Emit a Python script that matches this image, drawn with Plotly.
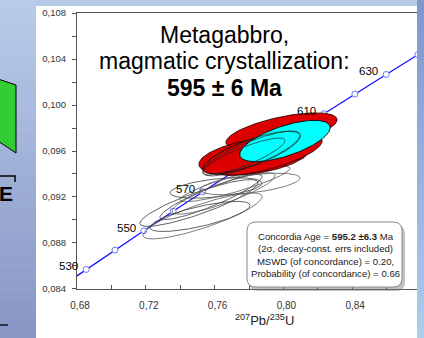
import numpy as np
import plotly.graph_objects as go

# ---------------- data ----------------
# concordia reference points (age in Ma, 207Pb/235U, 206Pb/238U)
ages = [520, 530, 540, 550, 560, 570, 580, 590, 600, 610, 620, 630, 640, 650]
conc_x = [0.66883, 0.68535, 0.70203, 0.71887, 0.73588, 0.75306, 0.77041,
          0.78794, 0.80563, 0.82350, 0.84155, 0.85977, 0.87818, 0.89677]
conc_y = [0.084007, 0.085691, 0.087376, 0.089064, 0.090755, 0.092448, 0.094144,
          0.095843, 0.097544, 0.099248, 0.100954, 0.102664, 0.104376, 0.106090]
label_ages = [530, 550, 570, 610, 630]

# unfilled (grey) analyses: centre x, centre y, 2s half-width x, 2s half-height y, rho
gray_cx = [0.75093, 0.75297, 0.75791, 0.76517, 0.76081, 0.77186, 0.75151, 0.78058]
gray_cy = [0.091478, 0.090348, 0.092000, 0.092304, 0.092783, 0.093130, 0.090304, 0.093130]
gray_hx = [0.03436, 0.03465, 0.02971, 0.03000, 0.02674, 0.03203, 0.02910, 0.02910]
gray_hy = [0.002035, 0.002000, 0.001965, 0.001800, 0.000891, 0.001539, 0.001309, 0.000939]
gray_rho = [0.867, 0.837, 0.900, 0.861, 0.470, 0.885, 0.734, 0.537]

# black-outlined analyses at the lower end of the red group
blk_cx = [0.77709, 0.78145]
blk_cy = [0.095522, 0.095783]
blk_hx = [0.02390, 0.02831]
blk_hy = [0.001609, 0.001952]
blk_rho = [0.853, 0.820]

# red filled analyses
red_cx = [0.79890, 0.78320, 0.79134, 0.78145]
red_cy = [0.097739, 0.095522, 0.095652, 0.095870]
red_hx = [0.03233, 0.03233, 0.03122, 0.02831]
red_hy = [0.001583, 0.001635, 0.001757, 0.001852]
red_rho = [0.617, 0.410, 0.694, 0.767]

# concordia age ellipse
cyan_cx, cyan_cy, cyan_hx, cyan_hy, cyan_rho = 0.80093, 0.096870, 0.02631, 0.001800, 0.648

x_title = "<sup>207</sup>Pb/<sup>235</sup>U"
title_lines = ["Metagabbro,", "magmatic crystallization:", "<b>595 ± 6 Ma</b>"]
box_text = ("Concordia Age = <b>595.2 ±6.3</b> Ma<br>(2σ, decay-const. errs included)<br>"
            "MSWD (of concordance) = 0.20,<br>Probability (of concordance) = 0.66")

# ---------------- layout geometry ----------------
W, H = 424, 338
ML, MR, MT, MB = 77, 3, 13, 49
PW, PH = W - ML - MR, H - MT - MB


def px(x):
    return (x - ML) / PW


def py(y):
    return (H - MB - y) / PH


def ellipse(cx, cy, hx, hy, rho, n=160):
    t = np.linspace(0, 2 * np.pi, n)
    x = cx + hx * np.cos(t)
    y = cy + hy * (rho * np.cos(t) + np.sqrt(1 - rho ** 2) * np.sin(t))
    return x, y


fig = go.Figure()

# concordia
fig.add_trace(go.Scatter(x=conc_x, y=conc_y, mode="lines",
                         line=dict(color="#1414ff", width=1.3), hoverinfo="skip"))
mk = [i for i, a in enumerate(ages) if 530 <= a <= 640]
fig.add_trace(go.Scatter(x=[conc_x[i] for i in mk], y=[conc_y[i] for i in mk], mode="markers",
                         marker=dict(symbol="circle", size=6, color="white",
                                     line=dict(color="#6878ff", width=1)), hoverinfo="skip"))

# grey ellipses
for i in range(len(gray_cx)):
    ex, ey = ellipse(gray_cx[i], gray_cy[i], gray_hx[i], gray_hy[i], gray_rho[i])
    fig.add_trace(go.Scatter(x=ex, y=ey, mode="lines",
                             line=dict(color="#5a5a5a" if i % 2 else "#3a3a3a", width=0.8),
                             hoverinfo="skip"))

# red filled
for i in range(len(red_cx)):
    ex, ey = ellipse(red_cx[i], red_cy[i], red_hx[i], red_hy[i], red_rho[i])
    fig.add_trace(go.Scatter(x=ex, y=ey, mode="lines", fill="toself", fillcolor="#dd0000",
                             line=dict(color="#1a0000", width=0.8), hoverinfo="skip"))

# cyan concordia ellipse
ex, ey = ellipse(cyan_cx, cyan_cy, cyan_hx, cyan_hy, cyan_rho)
fig.add_trace(go.Scatter(x=ex, y=ey, mode="lines", fill="toself", fillcolor="#00ffff",
                         line=dict(color="#111111", width=1), hoverinfo="skip"))

# outlines on top
for i in range(len(blk_cx)):
    ex, ey = ellipse(blk_cx[i], blk_cy[i], blk_hx[i], blk_hy[i], blk_rho[i])
    fig.add_trace(go.Scatter(x=ex, y=ey, mode="lines",
                             line=dict(color="#222222", width=0.7), hoverinfo="skip"))
for i in [3]:
    ex, ey = ellipse(red_cx[i], red_cy[i], red_hx[i], red_hy[i], red_rho[i])
    fig.add_trace(go.Scatter(x=ex, y=ey, mode="lines",
                             line=dict(color="#222222", width=0.7), hoverinfo="skip"))

shapes = []
# left slide background gradient
nb = 34
top_c, bot_c = np.array([184, 204, 233]), np.array([136, 150, 198])
for k in range(nb):
    f = k / (nb - 1)
    c = (top_c * (1 - f) + bot_c * f).astype(int)
    y0 = H * k / nb
    y1 = H * (k + 1) / nb + 0.5
    shapes.append(dict(type="rect", xref="paper", yref="paper", x0=px(0), x1=px(36),
                       y0=py(y1), y1=py(y0), fillcolor=f"rgb({c[0]},{c[1]},{c[2]})",
                       line=dict(width=0), layer="above"))
# top strip
shapes.append(dict(type="rect", xref="paper", yref="paper", x0=px(36), x1=px(417),
                   y0=py(6), y1=py(0), fillcolor="rgb(182,202,232)", line=dict(width=0),
                   layer="above"))
# right strip gradient
top_r, bot_r = np.array([128, 152, 204]), np.array([172, 204, 240])
for k in range(nb):
    f = k / (nb - 1)
    c = (top_r * (1 - f) + bot_r * f).astype(int)
    y0 = H * k / nb
    y1 = H * (k + 1) / nb + 0.5
    shapes.append(dict(type="rect", xref="paper", yref="paper", x0=px(417), x1=px(424),
                       y0=py(y1), y1=py(y0), fillcolor=f"rgb({c[0]},{c[1]},{c[2]})",
                       line=dict(width=0), layer="above"))
# green parallelogram
shapes.append(dict(type="path", xref="paper", yref="paper",
                   path=f"M {px(-2)},{py(79)} L {px(16)},{py(85)} L {px(16)},{py(153)} "
                        f"L {px(-2)},{py(141)} Z",
                   fillcolor="#33cc33", line=dict(color="black", width=1), layer="above"))
# bracket above E
shapes.append(dict(type="path", xref="paper", yref="paper",
                   path=f"M {px(-1)},{py(176)} L {px(15)},{py(176)} L {px(15)},{py(182)}",
                   line=dict(color="black", width=1.5), layer="above"))
# small dash bottom-left
shapes.append(dict(type="line", xref="paper", yref="paper", x0=px(0), x1=px(8),
                   y0=py(325), y1=py(325), line=dict(color="black", width=1.3), layer="above"))


def rrect(x0, y0, x1, y1, r):
    return (f"M {px(x0 + r)},{py(y0)} L {px(x1 - r)},{py(y0)} "
            f"Q {px(x1)},{py(y0)} {px(x1)},{py(y0 + r)} L {px(x1)},{py(y1 - r)} "
            f"Q {px(x1)},{py(y1)} {px(x1 - r)},{py(y1)} L {px(x0 + r)},{py(y1)} "
            f"Q {px(x0)},{py(y1)} {px(x0)},{py(y1 - r)} L {px(x0)},{py(y0 + r)} "
            f"Q {px(x0)},{py(y0)} {px(x0 + r)},{py(y0)} Z")


shapes.append(dict(type="path", xref="paper", yref="paper", path=rrect(249, 225, 405, 291, 9),
                   fillcolor="rgba(120,120,120,0.45)", line=dict(width=0), layer="above"))
shapes.append(dict(type="path", xref="paper", yref="paper", path=rrect(247, 222, 402, 287, 9),
                   fillcolor="white", line=dict(color="#8a8a8a", width=1), layer="above"))

annotations = []
for a in label_ages:
    i = ages.index(a)
    annotations.append(dict(x=conc_x[i], y=conc_y[i], xref="x", yref="y", text=str(a),
                            showarrow=False, xanchor="right", yanchor="middle",
                            xshift=-6, yshift=3,
                            font=dict(family="Liberation Sans, Arial", size=11.5, color="black")))
title_y = [35, 61, 88]
for t, yy in zip(title_lines, title_y):
    annotations.append(dict(x=px(224), y=py(yy), xref="paper", yref="paper", text=t,
                            showarrow=False, xanchor="center", yanchor="middle",
                            font=dict(family="Liberation Sans, Arial", size=23, color="black")))
annotations.append(dict(x=px(325), y=py(254.5), xref="paper", yref="paper", text=box_text,
                        showarrow=False, xanchor="center", yanchor="middle", align="center",
                        font=dict(family="Liberation Sans, Arial", size=9.6, color="#222222")))
annotations.append(dict(x=px(264), y=py(320), xref="paper", yref="paper", text=x_title,
                        showarrow=False, xanchor="center", yanchor="middle",
                        font=dict(family="Liberation Sans, Arial", size=13, color="#222222")))
annotations.append(dict(x=px(6), y=py(193), xref="paper", yref="paper", text="<b>E</b>",
                        showarrow=False, xanchor="center", yanchor="middle",
                        font=dict(family="Liberation Sans, Arial", size=21, color="black")))

fig.update_layout(
    width=W, height=H, margin=dict(l=ML, r=MR, t=MT, b=MB),
    paper_bgcolor="white", plot_bgcolor="white", showlegend=False,
    separators=",.",
    font=dict(family="Liberation Sans, Arial", color="#333333"),
    shapes=shapes, annotations=annotations,
    xaxis=dict(range=[0.67999, 0.88001], tick0=0.68, dtick=0.04, tickformat=".2f",
               ticks="inside", ticklen=4, tickcolor="#555555", showline=True,
               linecolor="#555555", linewidth=1, mirror=True, showgrid=False, zeroline=False,
               minor=dict(dtick=0.02, ticks="inside", ticklen=4, tickcolor="#555555"),
               tickfont=dict(size=10, color="#333333"), ticklabelstandoff=7,
               ticklabelshift=3),
    yaxis=dict(range=[0.08399, 0.10801], tick0=0.084, dtick=0.004, tickformat=".3f",
               ticks="outside", ticklen=4, tickcolor="#555555", showline=True,
               linecolor="#555555", linewidth=1, mirror=True, showgrid=False, zeroline=False,
               minor=dict(dtick=0.002, ticks="outside", ticklen=4, tickcolor="#555555"),
               tickfont=dict(size=9.5, color="#333333"),
               ticklabelstandoff=4),
)

fig.write_html("out.html")
